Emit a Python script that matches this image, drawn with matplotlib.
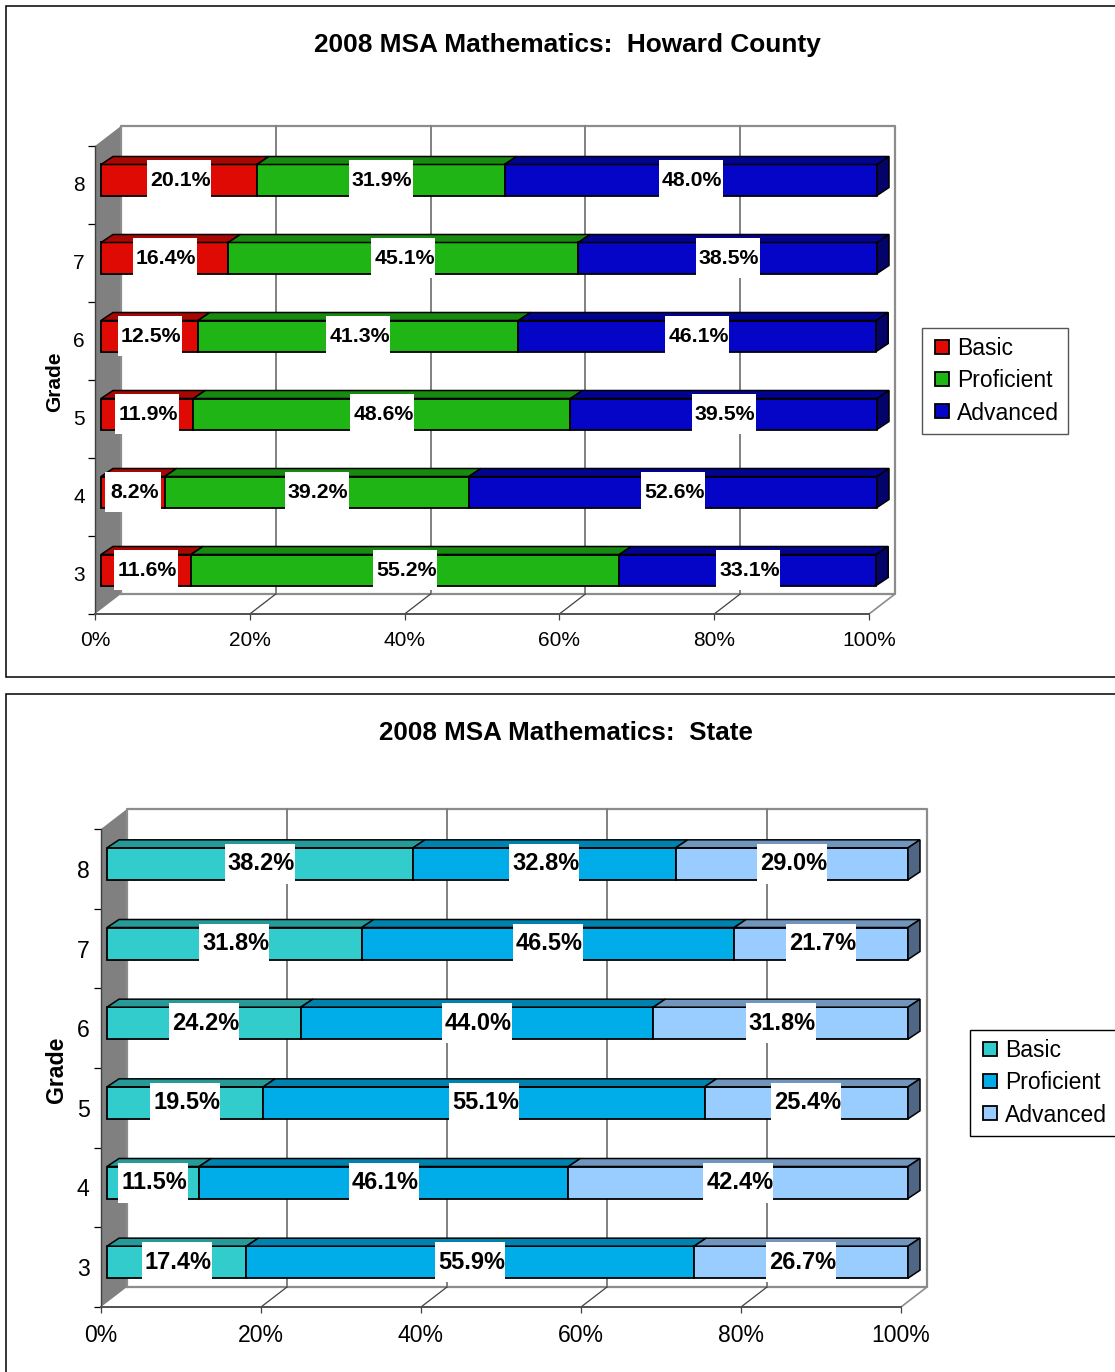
import matplotlib
matplotlib.use('Agg')
import matplotlib.pyplot as plt
from matplotlib.legend_handler import HandlerPatch
from matplotlib.patches import Patch, Polygon, Rectangle
from matplotlib.transforms import ScaledTranslation
import numpy as np

plt.rcParams['font.family'] = ['Liberation Sans', 'DejaVu Sans']

W, H = 1115, 1372

# --- data ---
grades = ['3', '4', '5', '6', '7', '8']
levels = ['Basic', 'Proficient', 'Advanced']
pct_ticks = [0, 20, 40, 60, 80, 100]

howard_basic = [11.6, 8.2, 11.9, 12.5, 16.4, 20.1]
howard_prof = [55.2, 39.2, 48.6, 41.3, 45.1, 31.9]
howard_adv = [33.1, 52.6, 39.5, 46.1, 38.5, 48.0]

state_basic = [17.4, 11.5, 19.5, 24.2, 31.8, 38.2]
state_prof = [55.9, 46.1, 55.1, 44.0, 46.5, 32.8]
state_adv = [26.7, 42.4, 25.4, 31.8, 21.7, 29.0]

howard_colors = [('#E00A05', '#A80804'), ('#1FB515', '#178A10'), ('#0505C8', '#030392')]
state_colors = [('#33CCCC', '#269999'), ('#00ADE9', '#0082AF'), ('#99CCFF', '#7096BE')]
howard_side = '#03036A'
state_side = '#4F6685'

fig = plt.figure(figsize=(W / 100, H / 100), dpi=100)
fig.patch.set_facecolor('white')


def panel(x0, y0, x1, y1):
    fig.add_artist(Rectangle((x0 / W, 1 - y1 / H), (x1 - x0) / W, (y1 - y0) / H,
                             transform=fig.transFigure, fc='white', ec='black', lw=1.1, zorder=-1))


def legend_square(legend, orig_handle, xdescent, ydescent, width, height, fontsize):
    # 14 px square, pushed to the right end of the handle box
    side = 10.0
    return Rectangle((width - side - xdescent, (height - side) / 2 - ydescent), side, side)


def draw_chart(series, colors, side_col, title, box, title_xy, grade_xy, legend_xy,
               tick_fs, label_fs, title_fs, box_w, bar_px, bar_len, pad_y, pad_x, ylab_shift, legend_ec):
    left, right, top, bottom = box
    ax = fig.add_axes([left / W, 1 - bottom / H, (right - left) / W, (bottom - top) / H])
    ax.patch.set_alpha(0)
    ax.set_xlim(0, 100)
    ax.set_ylim(0, len(grades))
    sx = 100 / (right - left)          # data units per pixel
    sy = len(grades) / (bottom - top)

    # back wall, side wall, floor
    wall_dx, wall_dy = 26 * sx, 20 * sy
    n = len(grades)
    ax.add_patch(Polygon([(0, 0), (wall_dx, wall_dy), (wall_dx, n + wall_dy), (0, n)],
                         fc='#808080', ec='none', clip_on=False, zorder=1))
    ax.plot([wall_dx, 100 + wall_dx, 100 + wall_dx, wall_dx, wall_dx],
            [wall_dy, wall_dy, n + wall_dy, n + wall_dy, wall_dy],
            color='#8C8C8C', lw=1.6, clip_on=False, zorder=1)
    ax.plot([100, 100 + wall_dx], [0, wall_dy], color='#8C8C8C', lw=1.2, clip_on=False, zorder=1)
    for t in pct_ticks[1:-1]:
        ax.plot([t + wall_dx, t + wall_dx], [wall_dy, n + wall_dy], color='#808080', lw=1.4,
                clip_on=False, zorder=1)
        ax.plot([t, t + wall_dx], [0, wall_dy], color='#404040', lw=0.9, clip_on=False, zorder=1)

    # bars
    y = np.arange(n) + 0.5 + 5 * sy
    bar_h = bar_px * sy
    x0 = 6 * sx
    dx, dy = 12 * sx, 8 * sy
    k = bar_len * sx / 100             # front face runs slightly longer than the axis
    start = np.zeros(n) + x0
    handles = []
    for vals, (face, top_col), name in zip(series, colors, levels):
        vals = np.array(vals) * k
        ax.barh(y, vals, left=start, height=bar_h, color=face, edgecolor='black',
                linewidth=1.3, zorder=3, clip_on=False)
        handles.append(Patch(facecolor=face, edgecolor='black', linewidth=1.3, label=name))
        for yi, s, v in zip(y, start, vals):
            yt = yi + bar_h / 2
            ax.add_patch(Polygon([(s, yt), (s + dx, yt + dy), (s + v + dx, yt + dy), (s + v, yt)],
                                 fc=top_col, ec='black', lw=1.1, clip_on=False, zorder=3))
        start = start + vals
    for yi, s in zip(y, start):
        yb = yi - bar_h / 2
        ax.add_patch(Polygon([(s, yb), (s + dx, yb + dy), (s + dx, yb + bar_h + dy), (s, yb + bar_h)],
                             fc=side_col, ec='black', lw=1.1, clip_on=False, zorder=3))

    # value labels with white boxes
    start = np.zeros(n) + x0
    for raw in series:
        vals = np.array(raw) * k
        for yi, s, v, r in zip(y, start, vals, raw):
            lab = f'{r:.1f}%'
            w = (box_w if len(lab) == 5 else box_w - 8) * sx
            bh = 40 * sy
            cx = s + v / 2
            ax.add_patch(Rectangle((cx - w / 2, yi - bh / 2), w, bh, fc='white', ec='none',
                                   clip_on=False, zorder=4))
            ax.text(cx + 1.5 * sx, yi, lab, ha='center', va='center', fontsize=label_fs,
                    fontweight='bold', color='black', zorder=5)
        start = start + vals

    # axes and ticks
    for side in ['top', 'right']:
        ax.spines[side].set_visible(False)
    ax.spines['left'].set_color('#404040')
    ax.spines['bottom'].set_color('#505050')
    ax.spines['left'].set_linewidth(1.0)
    ax.spines['bottom'].set_linewidth(1.4)
    ax.set_xticks(pct_ticks)
    ax.set_xticklabels([f'{t}%' for t in pct_ticks])
    ax.set_yticks(np.arange(n + 1))
    ax.set_yticklabels([])
    ax.set_yticks(np.arange(n) + 0.5, minor=True)
    ax.set_yticklabels(grades, minor=True)
    ax.tick_params(axis='x', length=4.5, width=0.9, color='#404040', labelsize=tick_fs, pad=pad_x)
    ax.tick_params(axis='y', which='major', length=5, width=0.9, color='black')
    ax.tick_params(axis='y', which='minor', length=0, labelsize=tick_fs, pad=pad_y)
    shift = ScaledTranslation(0, ylab_shift / 72, fig.dpi_scale_trans)
    for lab in ax.get_yticklabels(minor=True):
        lab.set_transform(lab.get_transform() + shift)

    fig.text(title_xy[0] / W, 1 - title_xy[1] / H, title, ha='center', va='center',
             fontsize=title_fs, fontweight='bold')
    fig.text(grade_xy[0] / W, 1 - grade_xy[1] / H, 'Grade', ha='center', va='center',
             rotation=90, fontsize=tick_fs, fontweight='bold')

    leg = ax.legend(handles=handles, loc='upper left', bbox_to_anchor=(legend_xy[0] / W, 1 - legend_xy[1] / H),
                    bbox_transform=fig.transFigure, borderaxespad=0, fontsize=16.5, frameon=True,
                    fancybox=False, framealpha=1, edgecolor=legend_ec, handlelength=0.78, handleheight=0.6,
                    handletextpad=0.35, labelspacing=0.40, borderpad=0.4,
                    handler_map={Patch: HandlerPatch(patch_func=legend_square)})
    leg.get_frame().set_linewidth(1.0)
    leg.set_zorder(6)


panel(6, 6, 1130, 677)
panel(6, 694, 1130, 1400)

draw_chart([howard_basic, howard_prof, howard_adv], howard_colors, howard_side,
           '2008 MSA Mathematics:  Howard County', (95, 869, 146, 614),
           (567, 45), (55, 382), (922, 328), 15, 15.3, 18.9, 64, 31, 776, 7.3, 8, 1.2, '#555555')
draw_chart([state_basic, state_prof, state_adv], state_colors, state_side,
           '2008 MSA Mathematics:  State', (101, 901, 829, 1307),
           (566, 733), (57, 1070), (970, 1030), 16.6, 17, 18.7, 70, 32, 801, 8.3, 8, 0, 'black')

plt.savefig('out.png', dpi=100)
